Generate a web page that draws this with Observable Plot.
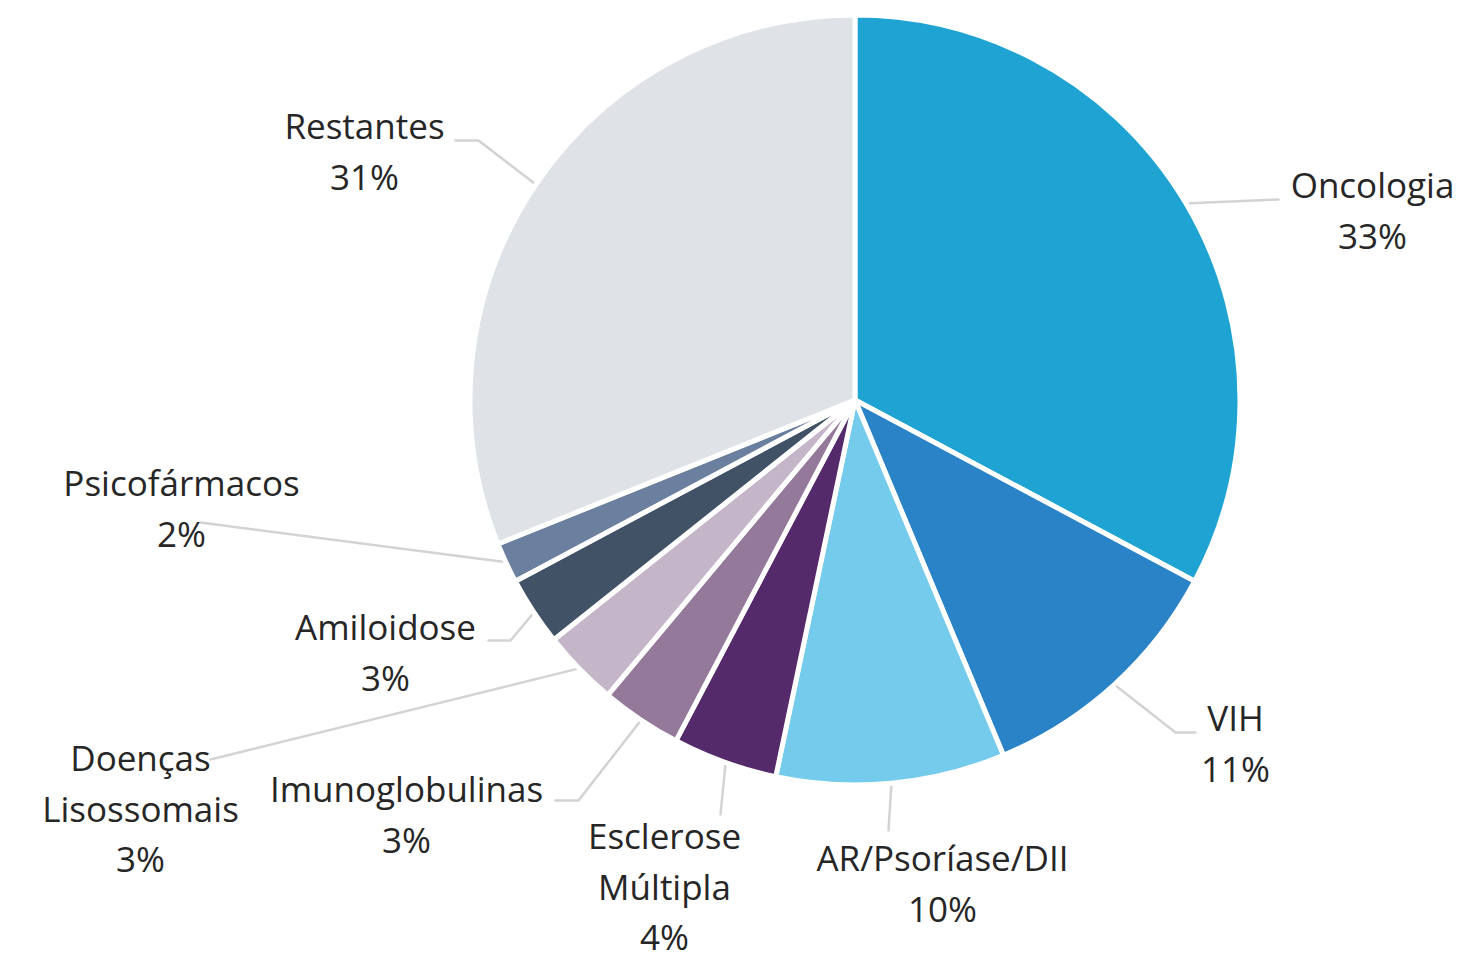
<!DOCTYPE html>
<html>
<head>
<meta charset="utf-8">
<script src="https://cdn.jsdelivr.net/npm/d3@7"></script>
<script src="https://cdn.jsdelivr.net/npm/@observablehq/plot@0.6"></script>
<style>
  html, body { margin: 0; padding: 0; background: #ffffff; }
  #chart svg { display: block; }
</style>
</head>
<body>
<div id="chart"></div>
<script>
// ---------- data ----------
const categories = ["Oncologia", "VIH", "AR/Psoríase/DII", "Esclerose Múltipla", "Imunoglobulinas",
  "Doenças Lisossomais", "Amiloidose", "Psicofármacos", "Restantes"];
const shares = [32.8, 10.9, 9.6, 4.4, 3.4, 3.2, 2.9, 1.7, 31.1];
const labelNameLines = [["Oncologia"], ["VIH"], ["AR/Psoríase/DII"], ["Esclerose", "Múltipla"], ["Imunoglobulinas"],
  ["Doenças", "Lisossomais"], ["Amiloidose"], ["Psicofármacos"], ["Restantes"]];
const sliceColors = ["#1ea3d3", "#2a82c7", "#74cbec", "#552a6b", "#94799a", "#c4b5c9", "#425266", "#6b7f9e", "#dfe2e6"];

// ---------- layout (pixels relative to the pie centre, y downward) ----------
const W = 1462, H = 963;
const CX = 855, CY = 400;       // pie centre in the frame
const R = 385;                  // outer radius
const labelPos = [[517, -193], [380, 340], [87, 480], [-191, 483], [-449, 411], [-715, 405], [-470, 249], [-674, 105], [-491, -252]];
const leaderTail = [
  [[423, -201]],
  [[320, 332], [340, 332]],
  [[33, 430]],
  [[-135, 414]],
  [[-277, 400], [-300, 400]],
  [[-645, 359]],
  [[-345, 240], [-367, 240]],
  [[-655, 122]],
  [[-377, -260], [-400, -260]]
];

// ---------- derived ----------
const color = Plot.scale({color: {type: "ordinal", domain: categories, range: sliceColors}});
const arcs = d3.pie().sort(null).value(d => d)(shares);
const midAngle = a => (a.startAngle + a.endAngle) / 2;

const leaderPoints = arcs.flatMap((a, i) => {
  const t = midAngle(a);
  const start = {k: categories[i], x: (R - 2) * Math.sin(t), y: -(R - 2) * Math.cos(t)};
  return [start, ...leaderTail[i].map(([x, y]) => ({k: categories[i], x, y}))];
});

const labels = categories.map((c, i) => ({
  x: labelPos[i][0],
  y: labelPos[i][1],
  text: [...labelNameLines[i], `${Math.round(shares[i])}%`].join("\n")
}));

function slices(index, scales) {
  const cx = scales.x(0), cy = scales.y(0);
  const r = scales.x(R) - scales.x(0);
  const arc = d3.arc().innerRadius(0).outerRadius(r);
  const g = d3.create("svg:g").attr("transform", `translate(${cx},${cy})`);
  g.selectAll("path")
    .data(arcs)
    .join("path")
    .attr("d", arc)
    .attr("fill", (d, i) => color.apply(categories[i]))
    .attr("stroke", "#ffffff")
    .attr("stroke-width", 5)
    .attr("stroke-linejoin", "round");
  return g.node();
}

const chart = Plot.plot({
  width: W,
  height: H,
  margin: 0,
  style: {background: "#ffffff", fontFamily: "'Open Sans', sans-serif"},
  x: {domain: [-CX, W - CX], axis: null},
  y: {domain: [-CY, H - CY], range: [0, H], axis: null},
  marks: [
    Plot.line(leaderPoints, {x: "x", y: "y", z: "k", stroke: "#d3d3d3", strokeWidth: 2.5, curve: "linear"}),
    slices,
    Plot.text(labels, {
      x: "x", y: "y", text: "text",
      fontSize: 35, lineHeight: 1.45,
      textAnchor: "middle", lineAnchor: "middle",
      fill: "#262626", fontFamily: "'Open Sans', sans-serif"
    })
  ]
});
document.getElementById("chart").appendChild(chart);
</script>
</body>
</html>
